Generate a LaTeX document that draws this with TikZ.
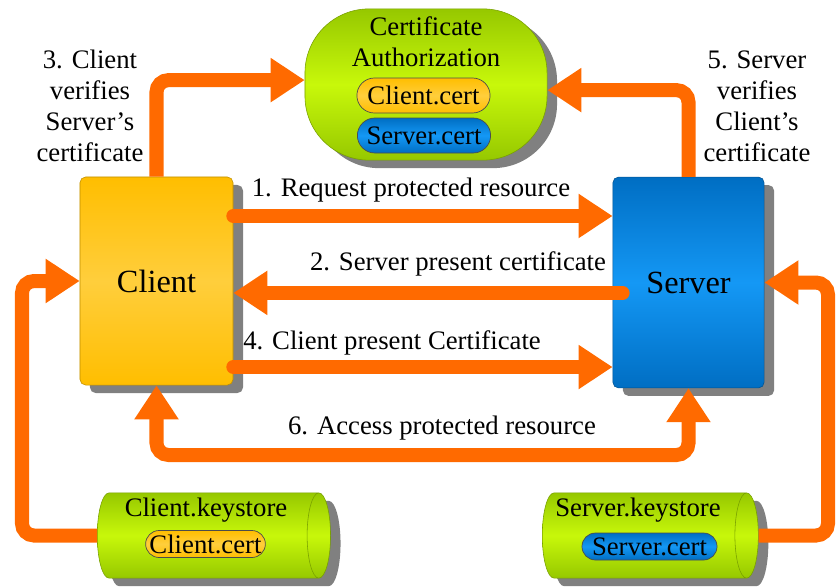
\documentclass[tikz,border=0pt]{standalone}
\usepackage{fontspec}
\setmainfont{Liberation Serif}
\usetikzlibrary{arrows.meta, shapes.geometric, shapes.misc, shadows, positioning}

\definecolor{flowc}{RGB}{255,106,0}
\definecolor{goldtop}{RGB}{255,190,0}
\definecolor{goldmid}{RGB}{255,206,60}
\definecolor{bluetop}{RGB}{0,110,195}
\definecolor{bluemid}{RGB}{20,152,245}
\definecolor{greentop}{RGB}{150,200,0}
\definecolor{greenmid}{RGB}{200,248,10}

\tikzset{
  shadowed/.style={drop shadow={shadow xshift=0.25cm, shadow yshift=-0.2cm, fill=black!50, opacity=1}},
  box/.style={rectangle, rounded corners=4pt, shadowed, draw=#1, line width=0.4pt,
    font=\fontsize{23}{26}\selectfont},
  clientbox/.style={box=goldtop!75!black, top color=goldtop, bottom color=goldtop, middle color=goldmid},
  serverbox/.style={box=bluetop!75!black, top color=bluetop, bottom color=bluetop, middle color=bluemid},
  cabox/.style={rectangle, rounded corners=1.6cm, shadowed, draw=greentop!80!black, line width=0.4pt,
    top color=greentop, bottom color=greentop, middle color=greenmid},
  keystore/.style={cylinder, shape aspect=2.5, minimum width=2.13cm, anchor=west, shadowed,
    draw=greentop!80!black, line width=0.4pt, top color=greentop, bottom color=greentop, middle color=greenmid},
  pill/.style={rounded rectangle, draw=black!70, line width=0.5pt, inner sep=0pt,
    minimum width=3.33cm, minimum height=0.875cm, font=\fontsize{19}{22}\selectfont},
  clientpill/.style={pill, top color=goldtop, bottom color=goldtop, middle color=goldmid},
  serverpill/.style={pill, top color=bluetop, bottom color=bluetop, middle color=bluemid},
  lbl/.style={font=\fontsize{19}{22}\selectfont, align=center, inner sep=0pt},
  flow/.style={draw=flowc, line width=0.35cm, rounded corners=0.3cm},
  >={Triangle[length=0.85cm, width=1.05cm]}
}

\begin{document}
\begin{tikzpicture}[x=0.025cm, y=-0.025cm]
  \useasboundingbox (0,0) rectangle (836,587);

  % boxes
  \node[clientbox, minimum width=3.825cm, minimum height=5.2cm] (client) at (156.5,281) {Client};
  \node[serverbox, minimum width=3.78cm, minimum height=5.27cm] (server) at (688.5,282.5) {Server};

  % certificate authorization
  \node[cabox, minimum width=6.05cm, minimum height=3.78cm] (ca) at (426,84.5) {};
  \node[lbl] (catitle) at (426,42) {Certificate\\Authorization};
  \node[clientpill] (cacl) at (423.5,95.5) {Client.cert};
  \node[serverpill] (casv) at (424,135.5) {Server.cert};

  % keystores
  \node[keystore, minimum height=5.83cm] (cks) at (97,535.5) {};
  \node[lbl] (ckstitle) at (206,510) {Client.keystore};
  \node[clientpill, minimum width=2.875cm, minimum height=0.675cm] (ckscl) at (205.5,544) {Client.cert};
  \node[keystore, minimum height=5.4cm] (sks) at (542,535.5) {};
  \node[lbl] (skstitle) at (638,510) {Server.keystore};
  \node[serverpill, minimum width=3.375cm, minimum height=0.675cm] (sksv) at (649.5,546.5) {Server.cert};

  % labels
  \node[lbl] (l1) at (411,190) {1. Request protected resource};
  \node[lbl] (l2) at (458,264) {2. Server present certificate};
  \node[lbl] (l3) at (90,106) {3. Client\\verifies\\Server's\\certificate};
  \node[lbl] (l4) at (392,343) {4. Client present Certificate};
  \node[lbl] (l5) at (757,106) {5. Server\\verifies\\Client's\\certificate};
  \node[lbl] (l6) at (442,428) {6. Access protected resource};

  \coordinate (r1) at ([yshift=1.625cm]client.east);
  \coordinate (r2) at ([xshift=0.25cm, yshift=-0.26cm]server.west);
  \coordinate (r4) at ([yshift=-2.15cm]client.east);
  \coordinate (r3) at ([yshift=0.11cm]ca.west);
  \coordinate (r5) at ([yshift=-0.14cm]ca.east);
  \coordinate (r6) at (420,455);
  \coordinate (kl) at (22,0);
  \coordinate (kr) at (828,0);

  \draw[flow, line cap=round, ->] (r1) -- (r1 -| server.west);
  \draw[flow, line cap=round, ->] (r2) -- (r2 -| client.east);
  \draw[flow, line cap=round, ->] (r4) -- (r4 -| server.west);
  \draw[flow, ->] (client.north) |- (r3);
  \draw[flow, ->] (server.north) |- (r5);
  \draw[flow, <->] (client.south) |- (r6) -| (server.south);
  \draw[flow, ->] (cks.west) -- (cks.west -| kl) |- (client.west);
  \draw[flow, ->] (sks.east) -- (sks.east -| kr) |- (server.east);
\end{tikzpicture}
\end{document}
